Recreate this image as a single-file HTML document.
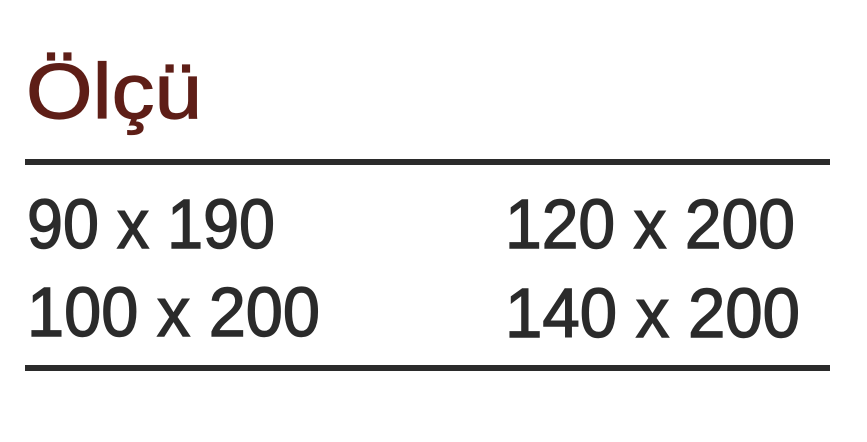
<!DOCTYPE html>
<html><head><meta charset="utf-8"><style>
html,body{margin:0;padding:0;background:#fff;width:867px;height:442px;overflow:hidden}
svg{display:block}
</style></head><body>
<svg width="867" height="442" viewBox="0 0 867 442" xmlns="http://www.w3.org/2000/svg">
<text x="26" y="118" font-family="Liberation Sans, sans-serif" font-size="78" fill="#5e1e17" stroke="#5e1e17" stroke-width="1.2" textLength="176" lengthAdjust="spacingAndGlyphs">Ölçü</text>
<rect x="25" y="159" width="805" height="6" fill="#2b2b2b"/>
<g font-family="Liberation Sans, sans-serif" font-size="70" fill="#2b2b2b" stroke="#2b2b2b" stroke-width="1.4">
<text x="27" y="248" textLength="248" lengthAdjust="spacingAndGlyphs">90 x 190</text>
<text x="27" y="336" textLength="293" lengthAdjust="spacingAndGlyphs">100 x 200</text>
<text x="505" y="248" textLength="290" lengthAdjust="spacingAndGlyphs">120 x 200</text>
<text x="505" y="337" textLength="295" lengthAdjust="spacingAndGlyphs">140 x 200</text>
</g>
<rect x="25" y="365" width="805" height="6" fill="#2b2b2b"/>
</svg>
</body></html>
